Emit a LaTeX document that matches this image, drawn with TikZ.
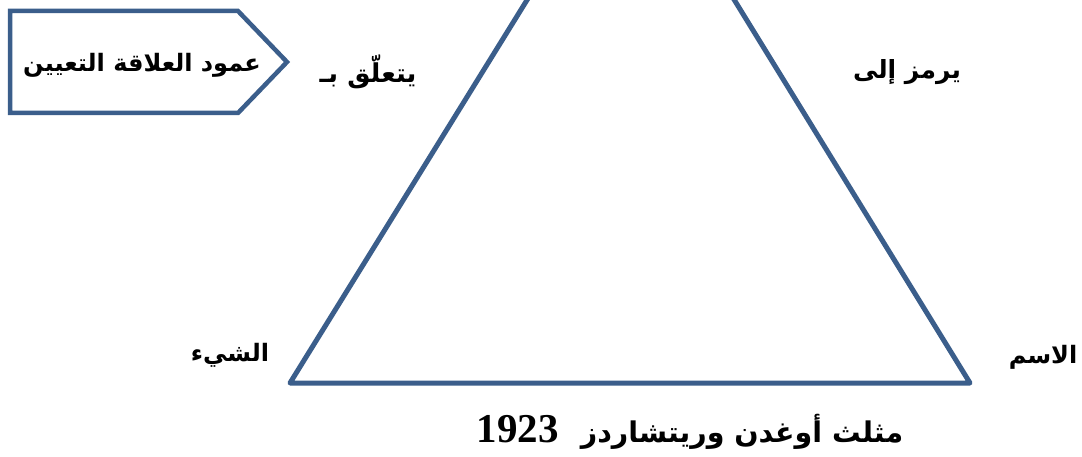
\documentclass[tikz,border=0pt]{standalone}
\usepackage{fontspec}
\TeXXeTstate=1
\newfontfamily\arabicfont[Script=Arabic]{DejaVu Sans}
\newfontfamily\digitfont{Liberation Serif}
\definecolor{lineblue}{RGB}{59,94,139}
\tikzset{
  edge/.style={draw=lineblue, line width=5pt, line join=round, line cap=round},
  lbl/.style={font=\arabicfont\bfseries\fontsize{24}{28}\selectfont, inner sep=0pt, text=black}
}
\begin{document}
\begin{tikzpicture}[x=1pt,y=1pt]
\useasboundingbox (0,0) rectangle (1082,-457);
\fill[white] (0,0) rectangle (1082,-457);
\clip (0,0) rectangle (1082,-457);
% triangle
\coordinate (L) at (290,-383);
\coordinate (R) at (970,-383);
\coordinate (T) at (631,168);
\draw[edge] (L) -- (R) -- (T) -- cycle;
% arrow-shaped box
\coordinate (b1) at (10,-11);
\coordinate (b2) at (238,-11);
\coordinate (b3) at (287,-62);
\coordinate (b4) at (238,-113);
\coordinate (b5) at (10,-113);
\draw[edge, line width=4.5pt, line cap=butt, line join=miter] (b1) -- (b2) -- (b3) -- (b4) -- (b5) -- cycle;
\node[lbl] (boxtext) at (142,-65) {\beginR عمود العلاقة التعيين\endR};
% labels
\node[lbl, font=\arabicfont\bfseries\fontsize{26}{30}\selectfont] (rel) at (368,-72) {\beginR يتعلّق بـ\endR};
\node[lbl, font=\arabicfont\bfseries\fontsize{25}{30}\selectfont] (sym) at (907,-72) {\beginR يرمز إلى\endR};
\node[lbl] (thing) at (230,-355) {\beginR الشيء\endR};
\node[lbl] (name) at (1043,-357) {\beginR الاسم\endR};
\node[lbl, font=\arabicfont\bfseries\fontsize{28.5}{34}\selectfont] (cap) at (690,-432)
  {\beginR مثلث أوغدن وريتشاردز\hspace{22pt}\beginL{\digitfont\bfseries\fontsize{41}{44}\selectfont 1923}\endL\endR};
\end{tikzpicture}
\end{document}
